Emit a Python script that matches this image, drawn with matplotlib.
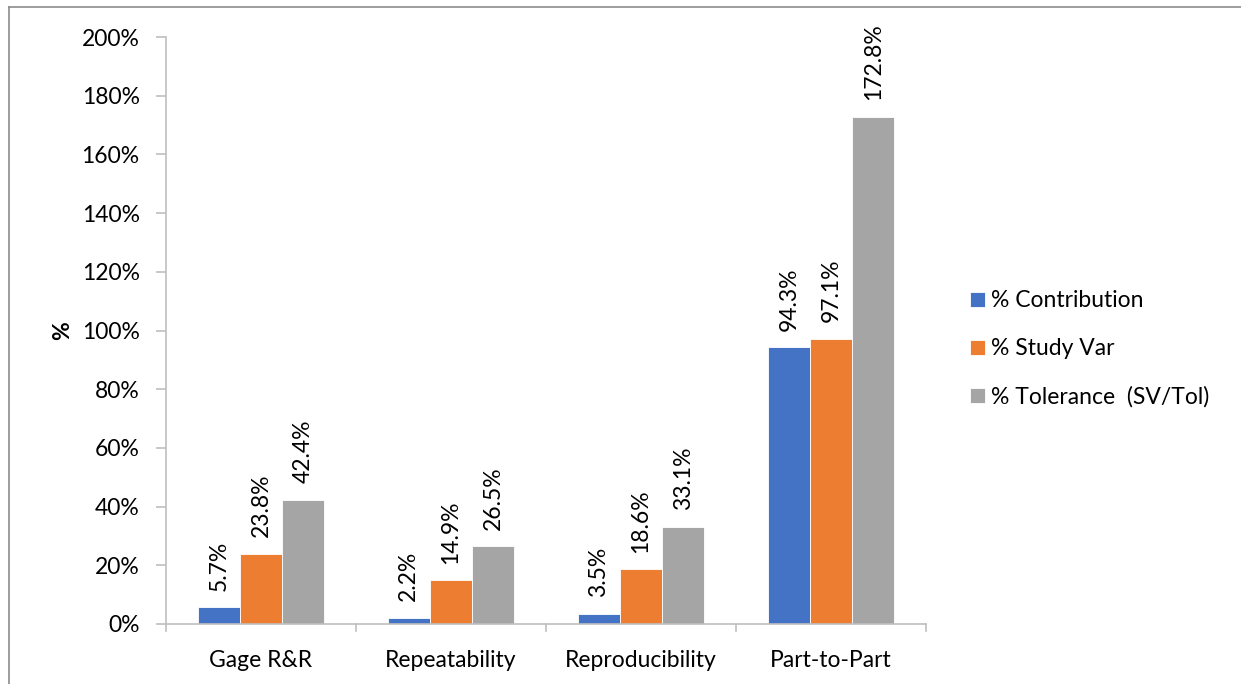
import matplotlib
matplotlib.use("Agg")
import matplotlib.pyplot as plt
from matplotlib.lines import Line2D
import numpy as np

categories = ["Gage R&R", "Repeatability", "Reproducibility", "Part-to-Part"]
series_names = ["% Contribution", "% Study Var", "% Tolerance  (SV/Tol)"]
contribution = [5.7, 2.2, 3.5, 94.3]
study_var = [23.8, 14.9, 18.6, 97.1]
tolerance = [42.4, 26.5, 33.1, 172.8]
y_ticks = [0, 20, 40, 60, 80, 100, 120, 140, 160, 180, 200]

colors = ["#4472C4", "#ED7D31", "#A5A5A5"]
axis_gray = "#BFBFBF"

plt.rcParams["font.family"] = ["Lato", "DejaVu Sans"]
FS = 16.5

W, H = 1241, 684
fig = plt.figure(figsize=(W / 100, H / 100), dpi=100)
ax = fig.add_axes([166 / W, 1 - 624 / H, (926 - 166) / W, (624 - 37) / H])

# chart frame (left and top edges)
fig.add_artist(Line2D([9 / W, 9 / W], [0, 1 - 7 / H], transform=fig.transFigure,
                      color="#8C8C8C", lw=1.2))
fig.add_artist(Line2D([9 / W, 1], [1 - 7 / H, 1 - 7 / H], transform=fig.transFigure,
                      color="#8C8C8C", lw=1.2))

x = np.arange(len(categories))
bw = 0.222
all_series = [contribution, study_var, tolerance]
for i, (vals, name, c) in enumerate(zip(all_series, series_names, colors)):
    pos = x + (i - 1) * bw
    bars = ax.bar(pos, vals, width=bw, color=c, label=name,
                  edgecolor="white", linewidth=0.6, zorder=2)
    for b, v in zip(bars, vals):
        ax.annotate(f"{v:.1f}%", (b.get_x() + b.get_width() / 2, v),
                    xytext=(0, 12), textcoords="offset points",
                    rotation=90, ha="center", va="bottom", fontsize=FS,
                    color="#000000")

ax.set_xlim(-0.5, len(categories) - 0.5)
ax.set_ylim(0, 200)
ax.set_yticks(y_ticks)
ax.set_yticklabels([f"{t}%" for t in y_ticks], fontsize=FS)
ax.set_xticks(x)
ax.set_xticklabels(categories, fontsize=FS)
ax.tick_params(axis="x", length=0, pad=19)
ax.tick_params(axis="y", length=7, width=1.2, color=axis_gray, pad=12)

# category separators below the axis
for b in np.arange(-0.5, len(categories), 1.0):
    ax.plot([b, b], [0, -0.012], transform=ax.get_xaxis_transform(),
            color=axis_gray, lw=1.2, clip_on=False)

for s in ["top", "right"]:
    ax.spines[s].set_visible(False)
for s in ["left", "bottom"]:
    ax.spines[s].set_color(axis_gray)
    ax.spines[s].set_linewidth(1.2)

ax.set_ylabel("%", fontsize=FS, fontweight="bold", labelpad=6)

leg = ax.legend(loc="center left", bbox_to_anchor=(949 / W, 1 - 349 / H),
                bbox_transform=fig.transFigure, frameon=False, fontsize=FS,
                handlelength=0.65, handleheight=0.65, handletextpad=0.3,
                labelspacing=1.18)

fig.savefig("out.png", dpi=100, facecolor="white")
